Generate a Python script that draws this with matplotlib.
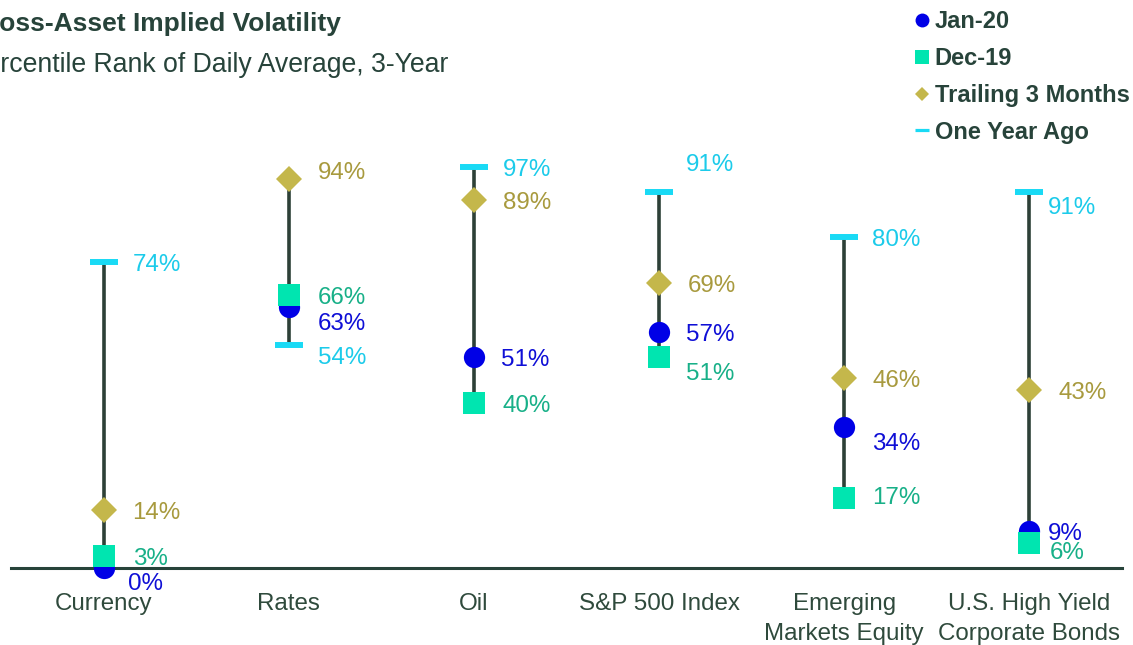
import matplotlib.pyplot as plt
from matplotlib.lines import Line2D
import numpy as np

plt.rcParams['font.family'] = ['Liberation Sans', 'DejaVu Sans']

categories = ['Currency', 'Rates', 'Oil', 'S&P 500 Index',
              'Emerging\nMarkets Equity', 'U.S. High Yield\nCorporate Bonds']
jan20 = [0, 63, 51, 57, 34, 9]
dec19 = [3, 66, 40, 51, 17, 6]
trailing_3m = [14, 94, 89, 69, 46, 43]
one_year_ago = [74, 54, 97, 91, 80, 91]

# label offsets (dx, dy) in pixels, per series, per category
off_jan = [(24, -13), (29, -14), (27, 0), (27, 0), (28, -14), (18, 0)]
off_dec = [(29, 0), (29, 0), (29, 0), (27, -14), (28, 3), (20, -7)]
off_trl = [(29, 0), (29, 9), (29, 0), (29, 0), (28, 0), (29, 0)]
off_one = [(29, 0), (29, -10), (29, 0), (27, 30), (28, 0), (18, -13)]

c_blue, c_mint, c_khaki, c_cyan = '#0000e6', '#00e5b0', '#c4b74b', '#19daf5'
t_blue, t_mint, t_khaki, t_cyan = '#0f0fd6', '#18b088', '#a89a3e', '#1ccbea'
dark = '#27433a'

x = np.arange(len(categories))

fig = plt.figure(figsize=(11.33, 6.45), dpi=100)
ax = fig.add_axes([11 / 1133, 77 / 645, 1111 / 1133, 413.5 / 645])

allv = np.array([jan20, dec19, trailing_3m, one_year_ago])
ax.vlines(x, allv.min(axis=0), allv.max(axis=0), color='#2d4037', lw=2.6, zorder=2)

ax.plot(x, one_year_ago, ls='none', marker='_', ms=19.5, mew=4.3, color=c_cyan, zorder=3, clip_on=False)
ax.plot(x, trailing_3m, ls='none', marker='D', ms=13.2, color=c_khaki, mew=0, zorder=3, clip_on=False)
ax.plot(x, jan20, ls='none', marker='o', ms=15.3, color=c_blue, mew=0, zorder=4, clip_on=False)
ax.plot(x, dec19, ls='none', marker='s', ms=15.5, color=c_mint, mew=0, zorder=5, clip_on=False)

for vals, offs, col in [(jan20, off_jan, t_blue), (dec19, off_dec, t_mint),
                        (trailing_3m, off_trl, t_khaki), (one_year_ago, off_one, t_cyan)]:
    for i, v in enumerate(vals):
        dx, dy = offs[i]
        ax.annotate(f'{v}%', (x[i], v), xytext=(dx * 0.72, (dy - 3) * 0.72),
                    textcoords='offset points', ha='left', va='center',
                    fontsize=17.4, color=col, annotation_clip=False, zorder=6)

ax.set_xlim(-0.5, len(categories) - 0.5)
ax.set_ylim(0, 100)
for s in ['top', 'right', 'left']:
    ax.spines[s].set_visible(False)
ax.spines['bottom'].set_color(dark)
ax.spines['bottom'].set_linewidth(2.2)
ax.spines['bottom'].set_zorder(3.5)
ax.set_yticks([])
ax.set_xticks(x)
ax.set_xticklabels(categories, fontsize=17.4, color='#2f4a3c', linespacing=1.45, va='top')
ax.tick_params(axis='x', length=0, pad=18)

fig.text(-30 / 1133, 1 - 24 / 645, 'Cross-Asset Implied Volatility', fontsize=19,
         fontweight='bold', color=dark, va='center', ha='left')
fig.text(-32 / 1133, 1 - 65 / 645, 'Percentile Rank of Daily Average, 3-Year', fontsize=19.2,
         color=dark, va='center', ha='left')

handles = [
    Line2D([], [], ls='none', marker='o', ms=10, color=c_blue, mew=0),
    Line2D([], [], ls='none', marker='s', ms=10, color=c_mint, mew=0),
    Line2D([], [], ls='none', marker='D', ms=7.5, color=c_khaki, mew=0),
    Line2D([], [], ls='none', marker='_', ms=10, mew=2.3, color=c_cyan),
]
labels = ['Jan-20', 'Dec-19', 'Trailing 3 Months', 'One Year Ago']
fig.legend(handles, labels, loc='upper left', bbox_to_anchor=(903 / 1133, 1 + 1.6 / 645),
           frameon=False, handlelength=0.6, handletextpad=0.25, labelspacing=0.585,
           borderpad=0, prop={'weight': 'bold', 'size': 17}, labelcolor=dark)

fig.savefig('out.png', dpi=100)
